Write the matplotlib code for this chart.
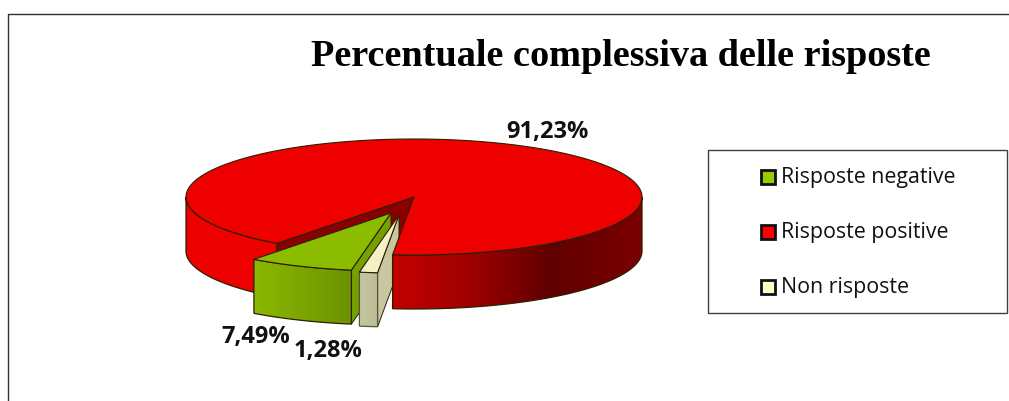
import numpy as np
import matplotlib
matplotlib.use("Agg")
import matplotlib.pyplot as plt
from matplotlib.patches import Polygon, Rectangle
from matplotlib.colors import to_rgb

title = "Percentuale complessiva delle risposte"
labels = ["Risposte negative", "Risposte positive", "Non risposte"]
values = [7.49, 91.23, 1.28]
value_text = ["7,49%", "91,23%", "1,28%"]
top_colors = ["#8cbc00", "#ee0000", "#f5f0c8"]
swatch_colors = ["#99cc00", "#ff0000", "#ffffcc"]

# pie geometry, in pixels of the picture
cx, cy, rx, ry, depth = 414, 197, 228, 58, 54
start = 100.0  # angle where the green slice begins, going round clockwise on screen
line = "#2a2000"


def rim(t, dx=0, dy=0, down=0):
    t = np.radians(t)
    return np.column_stack([cx + dx + rx * np.cos(t), cy + dy + down + ry * np.sin(t)])


def wall(ax, t0, t1, stops, dx=0, dy=0, edge=line, z=1):
    # outer wall: horizontal gradient image clipped to the wall shape
    ts = np.linspace(t0, t1, 200)
    up = rim(ts, dx, dy)
    lo = rim(ts, dx, dy, depth)
    pts = np.vstack([up, lo[::-1]])
    x0, x1 = pts[:, 0].min(), pts[:, 0].max()
    xs = np.linspace(x0, x1, 256)
    cols = np.array([to_rgb(s[1]) for s in stops])
    grad = np.stack([np.interp(xs, [s[0] for s in stops], cols[:, i]) for i in range(3)], axis=-1)[None, :, :]
    im = ax.imshow(grad, extent=[x0, x1, pts[:, 1].max(), pts[:, 1].min()], aspect="auto", zorder=z, interpolation="bilinear")
    im.set_clip_path(Polygon(pts, transform=ax.transData))
    ax.add_patch(Polygon(pts, fc="none", ec=edge, lw=0.9, zorder=z + 0.05))


def top(ax, t0, t1, color, dx=0, dy=0, z=3):
    ts = np.linspace(t0, t1, 400)
    pts = np.vstack([[cx + dx, cy + dy], rim(ts, dx, dy)])
    ax.add_patch(Polygon(pts, fc=color, ec=line, lw=0.8, zorder=z))


def side(ax, t, color, dx=0, dy=0, z=2):
    p = rim([t], dx, dy)[0]
    pts = [(cx + dx, cy + dy), p, (p[0], p[1] + depth), (cx + dx, cy + dy + depth)]
    ax.add_patch(Polygon(pts, fc=color, ec=line, lw=0.7, zorder=z))


fig = plt.figure(figsize=(10.09, 4.01), dpi=100)
ax = fig.add_axes([0, 0, 1, 1])

sweep = [v / 100 * 360 for v in values]
g0, g1 = start, start + sweep[0]
r0, r1 = g1, g1 + sweep[1]
n0, n1 = r1, r1 + sweep[2]

# red slice
side(ax, r0, "#8a0000", z=1.5)
wall(ax, r0, 180, [(186, "#ee0000"), (276, "#ee0000")], z=1)
wall(ax, 360, r1, [(392, "#c40000"), (470, "#a00000"), (550, "#600000"), (641, "#7c0000")], z=1.7)
top(ax, r0, r1, top_colors[1], z=3)

# green slice pulled out, its cut side sits behind the pale slice
gx, gy = -23, 16
side(ax, g0, "#74a000", gx, gy, z=1.55)
wall(ax, g0, g1, [(254, "#8cb800"), (352, "#6a9200")], gx, gy, z=4.2)
top(ax, g0, g1, top_colors[0], gx, gy, z=4.5)

# pale slice pulled out, its cut side goes behind the red slice
nx, ny = -15, 18
side(ax, n0 - 360, "#c8c8a0", nx, ny, z=1.6)
wall(ax, n0 - 360, n1 - 360, [(359, "#c6c6a2"), (378, "#bcbc98")], nx, ny, edge="#55553a", z=4.2)
top(ax, n0 - 360, n1 - 360, top_colors[2], nx, ny, z=4.5)

ax.set_xlim(0, 1009)
ax.set_ylim(401, 0)
ax.axis("off")

# chart frame, cropped on the right and bottom
ax.plot([8, 8, 1009], [401, 14, 14], color="#303030", lw=1)

ax.text(621, 56, title, family="Liberation Serif", weight="bold", fontsize=27.5, ha="center", va="center", color="black")

label_pos = [(255.5, 337), (547, 132), (328, 351)]
for s, p in zip(value_text, label_pos):
    ax.text(p[0], p[1], s, family="Open Sans", weight="bold", fontsize=17, ha="center", va="center", color="#111111", zorder=6)

# legend box
ax.add_patch(Rectangle((708, 150), 299, 163, fc="white", ec="#404040", lw=1, zorder=5))
for y, s, c in zip([177, 231.5, 286.5], labels, swatch_colors):
    ax.add_patch(Rectangle((761, y - 7), 13.5, 14, fc=c, ec="#101010", lw=2, zorder=6))
    ax.text(781, y + 1, s, family="Open Sans", fontsize=15.4, ha="left", va="center", color="#111111", zorder=6)

fig.savefig("out.png", dpi=100)
